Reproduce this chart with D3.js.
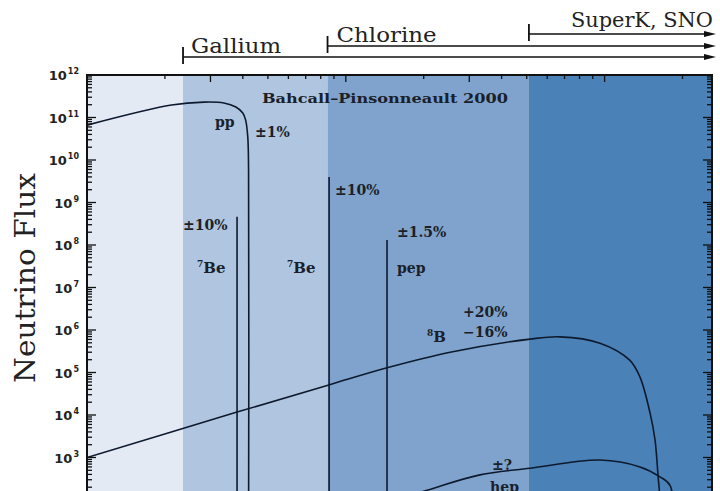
<!DOCTYPE html>
<html>
<head>
<meta charset="utf-8">
<script src="https://cdn.jsdelivr.net/npm/d3@7"></script>
<style>
  html, body { margin: 0; padding: 0; background: #fff; }
  svg { display: block; overflow: hidden; }
</style>
</head>
<body>
<div id="chart"></div>
<script>
// energies in MeV, fluxes
var bandEdges = [0.1, 0.235, 0.85, 5.1, 26];

var ppEnergy = [0.1, 0.212, 0.283, 0.338, 0.376, 0.400, 0.410, 0.418, 0.421, 0.421];
var ppFlux   = [6.6e10, 1.96e11, 2.3e11, 2.2e11, 1.77e11, 1.28e11, 8.8e10, 3.5e10, 5.8e9, 1e1];

var b8Energy = [0.1, 0.38, 0.86, 1.443, 2.53, 5.15, 6.73, 9.6, 12.5, 13.7, 14.98, 15.66, 16.08, 16.37, 16.6];
var b8Flux   = [1.0e3, 1.17e4, 5.1e4, 1.29e5, 3.0e5, 6.1e5, 6.9e5, 4.9e5, 1.95e5, 7.8e4, 1.12e4, 2.6e3, 3.9e2, 1e2, 1e1];

var hepEnergy = [1.2, 2.06, 3.3, 5.15, 9.6, 13.7, 16.37, 17.9, 18.8];
var hepFlux   = [60, 1.7e2, 3.9e2, 5.6e2, 8.7e2, 6.0e2, 3.5e2, 2.2e2, 1e1];

var lineEnergy = [0.38, 0.862, 1.443];
var lineFlux   = [4.6e8, 4.0e9, 1.32e8];

var detectorNames = ["Gallium", "Chlorine", "SuperK, SNO"];
var detectorThreshold = [0.235, 0.85, 5.1];

var yExponents = [12, 11, 10, 9, 8, 7, 6, 5, 4, 3];
var xMajorTicks = [0.3, 1, 3, 10];

// annotation anchors: [energy, log10 flux]
var notes = [
  {t: "Bahcall\u2013Pinsonneault 2000", e: 0.474, f: 11.34, len: 246},
  {t: "pp", e: 0.312, f: 10.78},
  {t: "\u00b11%", e: 0.446, f: 10.54},
  {t: "\u00b110%", e: 0.235, f: 8.35},
  {t: "\u00b110%", e: 0.909, f: 9.18},
  {t: "\u00b11.5%", e: 1.577, f: 8.19},
  {t: "pep", e: 1.577, f: 7.34},
  {t: "+20%", e: 2.84, f: 6.31},
  {t: "\u221216%", e: 2.84, f: 5.835},
  {t: "\u00b1?", e: 3.67, f: 2.71},
  {t: "hep", e: 3.61, f: 2.2}
];
var isoNotes = [
  {sup: "7", t: "Be", e: 0.266, f: 7.34},
  {sup: "7", t: "Be", e: 0.593, f: 7.34},
  {sup: "8", t: "B", e: 2.06, f: 5.72}
];

var W = 720, H = 491;
var bandColors = ["#e3eaf4", "#b0c5df", "#7fa3cc", "#4a81b6"];

var svg = d3.select("#chart").append("svg")
  .attr("width", W)
  .attr("height", H);

var x = d3.scaleLog().domain([0.1, 26]).range([87, 712]);
var y = d3.scaleLog().domain([1e12, 1e1]).range([75, 75 + 11 * 42.5]);
var plotTop = y(1e12), plotBottom = y(1e1);
var plotLeft = x(0.1), plotRight = x(26);

svg.append("clipPath").attr("id", "plotclip")
  .append("rect")
  .attr("x", plotLeft).attr("y", plotTop)
  .attr("width", plotRight - plotLeft).attr("height", plotBottom - plotTop);

var plot = svg.append("g").attr("clip-path", "url(#plotclip)");

// shaded detector bands
plot.selectAll("rect.band").data(d3.range(bandEdges.length - 1))
  .enter().append("rect")
  .attr("class", "band")
  .attr("x", function (i) { return x(bandEdges[i]); })
  .attr("y", plotTop)
  .attr("width", function (i) { return x(bandEdges[i + 1]) - x(bandEdges[i]); })
  .attr("height", plotBottom - plotTop)
  .attr("fill", function (i) { return bandColors[i]; });

var line = d3.line()
  .x(function (d) { return x(d[0]); })
  .y(function (d) { return y(d[1]); })
  .curve(d3.curveCatmullRom.alpha(0.5));

var curves = [
  d3.zip(ppEnergy, ppFlux),
  d3.zip(b8Energy, b8Flux),
  d3.zip(hepEnergy, hepFlux)
];

plot.selectAll("path.spec").data(curves)
  .enter().append("path")
  .attr("class", "spec")
  .attr("d", line)
  .attr("fill", "none")
  .attr("stroke", "#0d1a2e")
  .attr("stroke-width", 1.6);

// line sources
plot.selectAll("line.src").data(d3.zip(lineEnergy, lineFlux))
  .enter().append("line")
  .attr("class", "src")
  .attr("x1", function (d) { return x(d[0]); })
  .attr("x2", function (d) { return x(d[0]); })
  .attr("y1", function (d) { return y(d[1]); })
  .attr("y2", plotBottom)
  .attr("stroke", "#0d1a2e")
  .attr("stroke-width", 1.6);

// ticks, log minor ticks on left/right, energy ticks on top
var yTicks = [];
[12, 11, 10, 9, 8, 7, 6, 5, 4, 3, 2, 1].forEach(function (k) {
  for (var m = 1; m < 10; m++) yTicks.push({v: m * Math.pow(10, k), major: m === 1});
});
yTicks = yTicks.filter(function (d) { return d.v <= 1e12 && d.v >= 1e1; });

var ticks = svg.append("g").attr("stroke", "#111");
ticks.selectAll("line.yl").data(yTicks).enter().append("line")
  .attr("x1", plotLeft).attr("x2", function (d) { return plotLeft + (d.major ? 9 : 5); })
  .attr("y1", function (d) { return y(d.v); }).attr("y2", function (d) { return y(d.v); })
  .attr("stroke-width", 1.3);
ticks.selectAll("line.yr").data(yTicks).enter().append("line")
  .attr("x1", plotRight).attr("x2", function (d) { return plotRight - (d.major ? 9 : 5); })
  .attr("y1", function (d) { return y(d.v); }).attr("y2", function (d) { return y(d.v); })
  .attr("stroke-width", 1.3);

var xTicks = x.ticks().filter(function (v) { return v > 0.1 && v < 26; });
ticks.selectAll("line.xt").data(xTicks).enter().append("line")
  .attr("x1", function (d) { return x(d); }).attr("x2", function (d) { return x(d); })
  .attr("y1", plotTop)
  .attr("y2", function (d) {
    var major = xMajorTicks.some(function (m) { return Math.abs(m - d) < 1e-9; });
    return plotTop + (major ? 7 : 4);
  })
  .attr("stroke-width", 1.3);

// frame
svg.append("rect")
  .attr("x", plotLeft).attr("y", plotTop)
  .attr("width", plotRight - plotLeft).attr("height", plotBottom - plotTop)
  .attr("fill", "none").attr("stroke", "#111").attr("stroke-width", 2);

// y tick labels 10^k
var yl = svg.append("g")
  .attr("font-family", "DejaVu Sans")
  .attr("font-weight", "bold")
  .attr("fill", "#222");
yl.selectAll("text").data(yExponents).enter().append("text")
  .attr("x", 79)
  .attr("y", function (k) { return y(Math.pow(10, k)) + 5; })
  .attr("text-anchor", "end")
  .each(function (k) {
    var t = d3.select(this);
    t.append("tspan").attr("font-size", 13).text("10");
    t.append("tspan").attr("font-size", 8).attr("dy", -6).attr("dx", 1).text(k);
  });

svg.append("text")
  .attr("transform", "translate(35,278) rotate(-90)")
  .attr("text-anchor", "middle")
  .attr("font-family", "DejaVu Serif")
  .attr("font-size", 27)
  .attr("textLength", 210)
  .attr("lengthAdjust", "spacingAndGlyphs")
  .attr("fill", "#222")
  .text("Neutrino Flux");

// detector thresholds with arrows
var detY = [57, 46, 34];
var detText = [{dx: 8, y: 53, len: 90}, {dx: 9, y: 42, len: 100}, {dx: 42, y: 27, len: 142}];
var det = svg.append("g").attr("stroke", "#111").attr("fill", "#111");
detectorThreshold.forEach(function (e, i) {
  var x0 = x(e), yy = detY[i];
  det.append("line").attr("x1", x0).attr("x2", 712).attr("y1", yy).attr("y2", yy).attr("stroke-width", 1.6);
  det.append("line").attr("x1", x0).attr("x2", x0).attr("y1", yy - 10).attr("y2", yy + 7).attr("stroke-width", 1.8);
  det.append("path").attr("stroke", "none")
    .attr("d", "M704," + (yy - 3) + "L716," + yy + "L704," + (yy + 3) + "Z");
  det.append("text")
    .attr("stroke", "none")
    .attr("x", x0 + detText[i].dx)
    .attr("y", detText[i].y)
    .attr("font-family", "DejaVu Serif")
    .attr("font-size", 20)
    .attr("textLength", detText[i].len)
    .attr("lengthAdjust", "spacingAndGlyphs")
    .attr("fill", "#222")
    .text(detectorNames[i]);
});

// annotations
var ann = svg.append("g")
  .attr("font-family", "DejaVu Serif")
  .attr("font-weight", "bold")
  .attr("font-size", 14)
  .attr("fill", "#1a1f2a");
ann.selectAll("text.n").data(notes).enter().append("text")
  .attr("class", "n")
  .attr("x", function (d) { return x(d.e); })
  .attr("y", function (d) { return y(Math.pow(10, d.f)); })
  .attr("textLength", function (d) { return d.len || null; })
  .attr("lengthAdjust", "spacingAndGlyphs")
  .attr("font-size", function (d) { return d.len ? 13.5 : 14; })
  .text(function (d) { return d.t; });

ann.selectAll("text.iso").data(isoNotes).enter().append("text")
  .attr("class", "iso")
  .attr("x", function (d) { return x(d.e); })
  .attr("y", function (d) { return y(Math.pow(10, d.f)); })
  .each(function (d) {
    var t = d3.select(this);
    t.append("tspan").attr("font-size", 9).attr("dy", -6).text(d.sup);
    t.append("tspan").attr("font-size", 15).attr("dy", 6).text(d.t);
  });
</script>
</body>
</html>
